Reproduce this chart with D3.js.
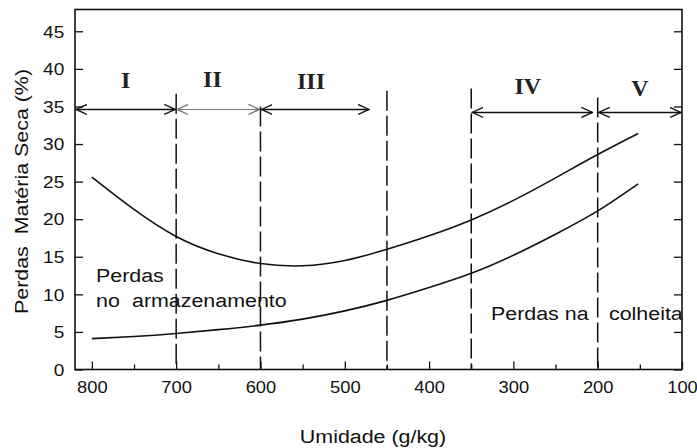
<!DOCTYPE html>
<html>
<head>
<meta charset="utf-8">
<script src="https://cdn.jsdelivr.net/npm/d3@7"></script>
<style>
  html, body { margin: 0; padding: 0; background: #fff; }
  svg { display: block; }
  text { font-family: "Liberation Sans", Arial, sans-serif; fill: #111; }
  text.roman { font-family: "Liberation Serif", "Times New Roman", serif; font-weight: bold; fill: #222; }
</style>
</head>
<body>
<div id="chart"></div>
<script>
// ---------- data ----------
const moisture = [800, 750, 700, 650, 600, 550, 500, 450, 400, 350, 300, 250, 200, 152];
const upperCurve = [25.6, 21.3, 17.7, 15.4, 14.1, 13.8, 14.5, 16.0, 17.8, 19.9, 22.5, 25.5, 28.6, 31.4];
const lowerCurve = [4.1, 4.4, 4.8, 5.3, 5.9, 6.7, 7.8, 9.2, 10.9, 12.8, 15.2, 18.0, 21.1, 24.7];

const xTicks = [800, 700, 600, 500, 400, 300, 200, 100];
const xMinorTicks = [750, 650, 550, 450, 350, 250, 150];
const yTicks = [0, 5, 10, 15, 20, 25, 30, 35, 40, 45];

const dividerX = [700, 600, 450, 350, 200];
const dividerTop = [36.7, 35.0, 37.1, 37.4, 36.2];

const regionNames = ["I", "II", "III", "IV", "V"];
const regionFrom = [820, 700, 600, 350, 200];
const regionTo = [700, 600, 470, 205, 100];
const regionArrowY = [34.6, 34.6, 34.6, 34.2, 34.2];
const regionLabelX = [760, 657, 540, 283, 150];
const regionLabelY = [37.5, 37.6, 37.3, 36.6, 36.4];

const xTitle = "Umidade (g/kg)";
const yTitle = "Perdas\u00a0\u00a0Matéria Seca (%)";

// ---------- layout ----------
const W = 697, H = 448;
const margin = { left: 75, right: 15, top: 9.5, bottom: 78.5 };
const iw = W - margin.left - margin.right;
const ih = H - margin.top - margin.bottom;

const svg = d3.select("#chart").append("svg").attr("width", W).attr("height", H);
const g = svg.append("g").attr("transform", `translate(${margin.left},${margin.top})`);

const x = d3.scaleLinear().domain([820, 100]).range([0, iw]);
const y = d3.scaleLinear().domain([0, 47.9]).range([ih, 0]);

const SX = 1.19; // horizontal text stretch

// defs: open arrowhead
const defs = svg.append("defs");
function marker(id, color) {
  defs.append("marker")
    .attr("id", id)
    .attr("viewBox", "0 -6 12 12")
    .attr("refX", 11).attr("refY", 0)
    .attr("markerUnits", "userSpaceOnUse")
    .attr("markerWidth", 12).attr("markerHeight", 12)
    .attr("orient", "auto-start-reverse")
    .append("path")
    .attr("d", "M0,-5L11,0L0,5")
    .attr("fill", "none").attr("stroke", color).attr("stroke-width", 1.3);
}
marker("arr", "#111");
marker("arrFaint", "#777");

// frame
g.append("rect").attr("x", 0).attr("y", 0).attr("width", iw).attr("height", ih)
  .attr("fill", "none").attr("stroke", "#111").attr("stroke-width", 1.6);

// axes
const xAxis = g.append("g").attr("transform", `translate(0,${ih})`)
  .call(d3.axisBottom(x).tickValues(xTicks).tickSize(-8).tickPadding(11).tickFormat(d3.format("d")));
const xMinor = g.append("g").attr("transform", `translate(0,${ih})`)
  .call(d3.axisBottom(x).tickValues(xMinorTicks).tickSize(-5).tickFormat(""));
const yAxis = g.append("g")
  .call(d3.axisLeft(y).tickValues(yTicks).tickSize(-8).tickPadding(9));
const yRight = g.append("g").attr("transform", `translate(${iw},0)`)
  .call(d3.axisRight(y).tickValues(yTicks).tickSize(-8).tickFormat(""));

[xAxis, xMinor, yAxis, yRight].forEach(a => {
  a.select(".domain").remove();
  a.selectAll(".tick line").attr("stroke", "#111").attr("stroke-width", 1.3);
});
xAxis.selectAll("text").attr("font-size", 17).attr("fill", "#111")
  .attr("transform", "scale(1.08,1)");
yAxis.selectAll("text").attr("font-size", 16).attr("fill", "#111")
  .attr("dy", "0.36em")
  .attr("transform", `scale(${SX},1)`);

// dashed dividers
g.selectAll(".divider").data(dividerX).enter().append("line")
  .attr("x1", d => x(d)).attr("x2", d => x(d))
  .attr("y1", (d, i) => y(dividerTop[i])).attr("y2", y(0))
  .attr("stroke", "#111").attr("stroke-width", 1.5)
  .attr("stroke-dasharray", "20,5");

// curves
const line = d3.line().x((d, i) => x(moisture[i])).y(d => y(d)).curve(d3.curveNatural);
[upperCurve, lowerCurve].forEach(s => {
  g.append("path").datum(s).attr("d", line)
    .attr("fill", "none").attr("stroke", "#111").attr("stroke-width", 1.6);
});

// region arrows
regionNames.forEach((nm, i) => {
  const faint = i === 1;
  g.append("line")
    .attr("x1", x(regionFrom[i]) + 1).attr("x2", x(regionTo[i]) - 1)
    .attr("y1", y(regionArrowY[i])).attr("y2", y(regionArrowY[i]))
    .attr("stroke", faint ? "#777" : "#111").attr("stroke-width", faint ? 1 : 1.4)
    .attr("marker-start", faint ? "url(#arrFaint)" : "url(#arr)")
    .attr("marker-end", faint ? "url(#arrFaint)" : "url(#arr)");
  g.append("text")
    .attr("class", "roman")
    .attr("x", x(regionLabelX[i])).attr("y", y(regionLabelY[i]))
    .attr("text-anchor", "middle")
    .attr("font-size", 24)
    .text(nm);
});

// stretched text helper
function stext(parent, tx, ty, str, size, anchor, rot) {
  return parent.append("text")
    .attr("transform", `translate(${tx},${ty})${rot ? ` rotate(${rot})` : ""} scale(${SX},1)`)
    .attr("text-anchor", anchor || "start")
    .attr("font-size", size)
    .text(str);
}

// annotations (pixel positions of labels in chart frame)
stext(g, 96 - margin.left, 281.7 - margin.top, "Perdas", 18);
stext(g, 96 - margin.left, 306.5 - margin.top, "no", 18);
stext(g, 132 - margin.left, 306.5 - margin.top, "armazenamento", 18);
stext(g, 491 - margin.left, 320 - margin.top, "Perdas na", 18);
stext(g, 609 - margin.left, 320 - margin.top, "colheita", 18);

// axis titles
stext(svg, 373, 443, xTitle, 18, "middle");
stext(svg, 28, 191.5, yTitle, 18, "middle", -90);
</script>
</body>
</html>
